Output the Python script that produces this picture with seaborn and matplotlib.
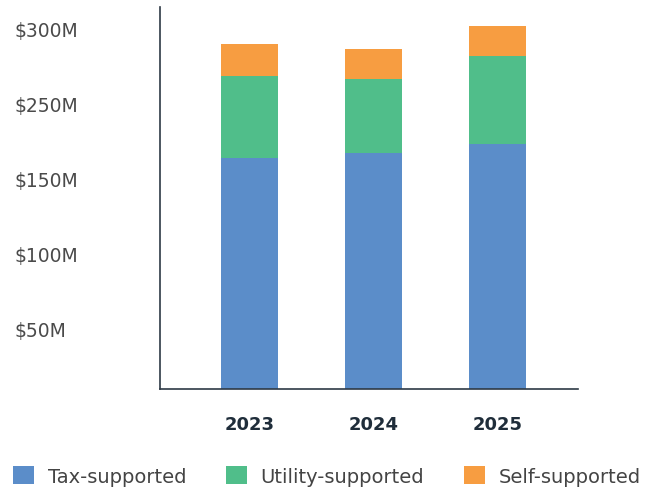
import numpy as np
import pandas as pd
import matplotlib
matplotlib.use("Agg")
import matplotlib.pyplot as plt
from matplotlib.patches import Patch
import seaborn as sns

# Funding by source, $ millions
years = ["2023", "2024", "2025"]
tax_supported = [192.5, 196.9, 203.9]
utility_supported = [68.3, 61.2, 73.3]
self_supported = [26.7, 25.2, 25.3]

series_names = ["Tax-supported", "Utility-supported", "Self-supported"]
colors = ["#5B8DC9", "#50BE8A", "#F79D41"]

y_tick_labels = ["$50M", "$100M", "$150M", "$250M", "$300M"]

sns.set_style("white")
plt.rcParams["font.family"] = ["DejaVu Sans"]

df = pd.DataFrame({
    "year": years,
    "tax": tax_supported,
    "utility": utility_supported,
    "self": self_supported,
})
# cumulative stack heights, drawn tallest first so lower segments sit on top
df["lvl1"] = df["tax"]
df["lvl2"] = df["tax"] + df["utility"]
df["lvl3"] = df["lvl2"] + df["self"]

fig = plt.figure(figsize=(6.49, 4.89), dpi=100)
ax = fig.add_axes([0.2465, 0.2025, 0.644, 0.781])

bar_w = 0.46
for col, color in zip(["lvl3", "lvl2", "lvl1"], colors[::-1]):
    sns.barplot(data=df, x="year", y=col, color=color, width=bar_w,
                saturation=1, ax=ax, linewidth=0, zorder=2)

ax.set_xlim(-0.72, 2.65)
ax.set_ylim(0, 318)
ax.set_xlabel("")
ax.set_ylabel("")

ax.set_yticks(np.linspace(50, 300, len(y_tick_labels)))
ax.set_yticklabels(y_tick_labels)
ax.tick_params(axis="y", length=0, pad=105, labelsize=13.5, labelcolor="#4A4A4A")
for lbl in ax.get_yticklabels():
    lbl.set_horizontalalignment("left")

ax.tick_params(axis="x", length=0, pad=19, labelsize=13, labelcolor="#1F2D3A")
for lbl in ax.get_xticklabels():
    lbl.set_fontweight("bold")

for side in ["top", "right"]:
    ax.spines[side].set_visible(False)
for side in ["left", "bottom"]:
    ax.spines[side].set_color("#2E3A45")
    ax.spines[side].set_linewidth(1.2)

handles = [Patch(facecolor=c, edgecolor="none", label=n) for c, n in zip(colors, series_names)]
fig.legend(handles=handles, loc="center", bbox_to_anchor=(0.504, 0.0245), ncol=3,
           frameon=False, fontsize=14, handlelength=1.07, handleheight=1.07,
           handletextpad=0.7, columnspacing=2.05, labelcolor="#444444",
           borderpad=0, borderaxespad=0)

fig.savefig("out.png", dpi=100)
